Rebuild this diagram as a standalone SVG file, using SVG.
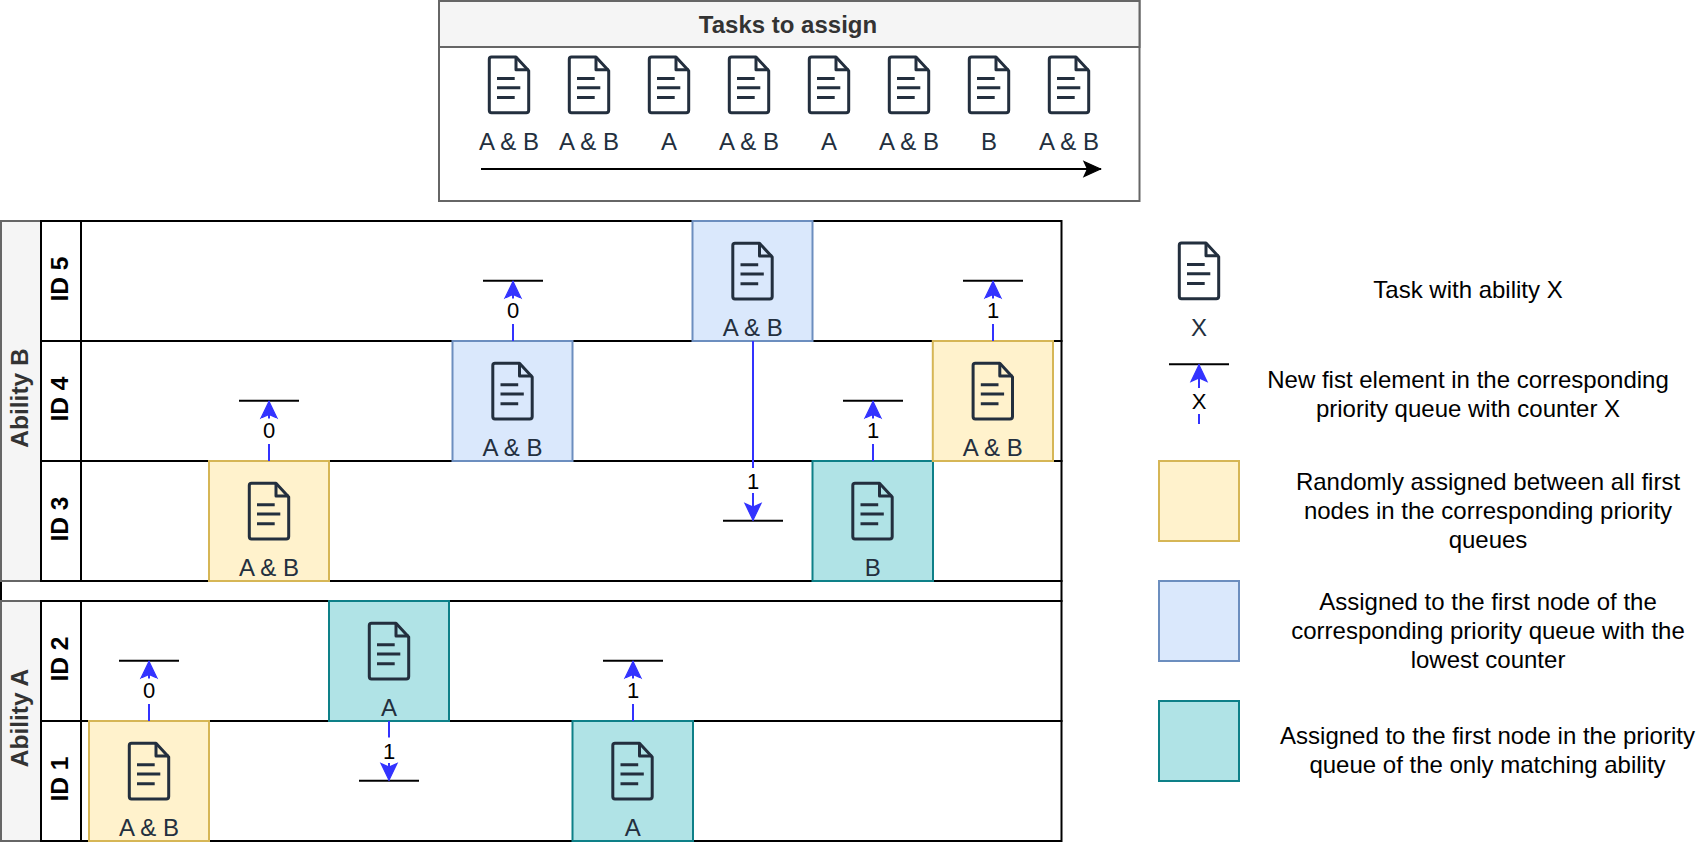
<svg xmlns="http://www.w3.org/2000/svg" width="1700" height="844" viewBox="0 0 1700 844">
<style>
text{font-family:"Liberation Sans",Arial,sans-serif;text-anchor:middle}
.t{font-size:24px;fill:#232f3e}
.d{font-size:24px;fill:#000}
.h{font-size:24px;font-weight:bold;fill:#333}
.ab{font-size:24.500px;font-weight:bold;fill:#333}
.id{font-size:24.500px;font-weight:bold;fill:#000}
.n{font-size:22px;fill:#000}
.lane{fill:none;stroke:#000;stroke-width:2}
.hd{fill:#f5f5f5;stroke:#666;stroke-width:2}
.y{fill:#fff2cc;stroke:#d6b656;stroke-width:2}
.b{fill:#dae8fc;stroke:#6c8ebf;stroke-width:2}
.g{fill:#b0e3e6;stroke:#0e8088;stroke-width:2}
.q{stroke:#000;stroke-width:2;fill:none}
.c{stroke:#3333ff;stroke-width:2;fill:none;marker-end:url(#ah)}
.bg{fill:#fff}
</style>
<defs>
<marker id="ah" markerUnits="userSpaceOnUse" markerWidth="22" markerHeight="22" viewBox="0 0 22 22" refX="20" refY="11" orient="auto">
<path d="M3 3 L19.500 11 L3 19 L6.500 11 Z" fill="#3333ff" stroke="#3333ff" stroke-width="1.200"/>
</marker>
<marker id="bk" markerUnits="userSpaceOnUse" markerWidth="22" markerHeight="22" viewBox="0 0 22 22" refX="20" refY="11" orient="auto">
<path d="M3 3.500 L19.500 11 L3 18.500 L6.500 11 Z" fill="#000" stroke="#000" stroke-width="1.200"/>
</marker>
<g id="doc" fill="none" stroke="#232f3e" stroke-width="3" stroke-linejoin="round">
<path d="M3.500 1.300 H28 L40.700 15 V54.500 Q40.700 57 38.200 57 H3.500 Q1.300 57 1.300 54.500 V3.500 Q1.300 1.300 3.500 1.300 Z"/>
<path d="M28 1.300 V14 H40.700"/>
<path d="M9 22.700 H26.700 M9 32 H32.300 M9 41.700 H26.700"/>
</g>
</defs>

<g id="tasks">
<rect x="439" y="1" width="700.500" height="200" fill="#fff" stroke="#666" stroke-width="2"/>
<rect class="hd" x="439" y="1" width="700.500" height="46"/>
<text class="h" x="788" y="33">Tasks to assign</text>
<path d="M481 169 H1101" stroke="#000" stroke-width="2" fill="none" marker-end="url(#bk)"/>
</g>
<g id="task1"><use href="#doc" x="488" y="55.700"/><text class="t" x="509" y="150">A &amp; B</text></g>
<g id="task2"><use href="#doc" x="568" y="55.700"/><text class="t" x="589" y="150">A &amp; B</text></g>
<g id="task3"><use href="#doc" x="648" y="55.700"/><text class="t" x="669" y="150">A</text></g>
<g id="task4"><use href="#doc" x="728" y="55.700"/><text class="t" x="749" y="150">A &amp; B</text></g>
<g id="task5"><use href="#doc" x="808" y="55.700"/><text class="t" x="829" y="150">A</text></g>
<g id="task6"><use href="#doc" x="888" y="55.700"/><text class="t" x="909" y="150">A &amp; B</text></g>
<g id="task7"><use href="#doc" x="968" y="55.700"/><text class="t" x="989" y="150">B</text></g>
<g id="task8"><use href="#doc" x="1048" y="55.700"/><text class="t" x="1069" y="150">A &amp; B</text></g>

<g id="pool-gap"><rect class="lane" x="1" y="581" width="1060.500" height="20"/></g>
<g id="ability-b">
<rect class="hd" x="1" y="221" width="40" height="360"/>
<text class="ab" transform="translate(28 398) rotate(-90)">Ability B</text>
</g>
<g id="id5"><rect class="lane" x="41" y="221" width="1020.500" height="120"/><rect class="lane" x="41" y="221" width="40" height="120"/><text class="id" transform="translate(68.300 279) rotate(-90)">ID 5</text></g>
<g id="id4"><rect class="lane" x="41" y="341" width="1020.500" height="120"/><rect class="lane" x="41" y="341" width="40" height="120"/><text class="id" transform="translate(68.300 399) rotate(-90)">ID 4</text></g>
<g id="id3"><rect class="lane" x="41" y="461" width="1020.500" height="120"/><rect class="lane" x="41" y="461" width="40" height="120"/><text class="id" transform="translate(68.300 519) rotate(-90)">ID 3</text></g>
<g id="ability-a">
<rect class="hd" x="1" y="601" width="40" height="240"/>
<text class="ab" transform="translate(28 718) rotate(-90)">Ability A</text>
</g>
<g id="id2"><rect class="lane" x="41" y="601" width="1020.500" height="120"/><rect class="lane" x="41" y="601" width="40" height="120"/><text class="id" transform="translate(68.300 659) rotate(-90)">ID 2</text></g>
<g id="id1"><rect class="lane" x="41" y="721" width="1020.500" height="120"/><rect class="lane" x="41" y="721" width="40" height="120"/><text class="id" transform="translate(68.300 779) rotate(-90)">ID 1</text></g>

<g id="node-y1"><rect class="y" x="89" y="721" width="120" height="120"/><use href="#doc" x="128" y="742"/><text class="t" x="149" y="835.500">A &amp; B</text></g>
<g id="node-g2"><rect class="g" x="329" y="601" width="120" height="120"/><use href="#doc" x="368" y="622"/><text class="t" x="389" y="715.500">A</text></g>
<g id="node-y3"><rect class="y" x="209" y="461" width="120" height="120"/><use href="#doc" x="248" y="482"/><text class="t" x="269" y="575.500">A &amp; B</text></g>
<g id="node-b4"><rect class="b" x="452.500" y="341" width="120" height="120"/><use href="#doc" x="491.500" y="362"/><text class="t" x="512.500" y="455.500">A &amp; B</text></g>
<g id="node-g1"><rect class="g" x="572.500" y="721" width="120.500" height="120"/><use href="#doc" x="611.500" y="742"/><text class="t" x="632.800" y="835.500">A</text></g>
<g id="node-b5"><rect class="b" x="692.500" y="221" width="120" height="120"/><use href="#doc" x="731.500" y="242"/><text class="t" x="752.800" y="335.500">A &amp; B</text></g>
<g id="node-g3"><rect class="g" x="812.500" y="461" width="120.500" height="120"/><use href="#doc" x="851.500" y="482"/><text class="t" x="872.800" y="575.500">B</text></g>
<g id="node-y4"><rect class="y" x="932.800" y="341" width="120.200" height="120"/><use href="#doc" x="971.800" y="362"/><text class="t" x="992.800" y="455.500">A &amp; B</text></g>

<g id="connectors">
<path class="q" d="M119 660.700 H179"/><path class="c" d="M149 721 V661"/><rect class="bg" x="141" y="678.500" width="16" height="25.500"/><text class="n" x="149" y="698">0</text>
<path class="q" d="M359 780.700 H419"/><path class="c" d="M389 721 V780.500"/><rect class="bg" x="381" y="737.500" width="16" height="25.500"/><text class="n" x="389" y="759">1</text>
<path class="q" d="M239 400.700 H299"/><path class="c" d="M269 461 V401"/><rect class="bg" x="261" y="418.500" width="16" height="25.500"/><text class="n" x="269" y="438">0</text>
<path class="q" d="M483 280.700 H543"/><path class="c" d="M513 341 V281"/><rect class="bg" x="505" y="298.500" width="16" height="25.500"/><text class="n" x="513" y="318">0</text>
<path class="q" d="M603 660.700 H663"/><path class="c" d="M633 721 V661"/><rect class="bg" x="625" y="678.500" width="16" height="25.500"/><text class="n" x="633" y="698">1</text>
<path class="q" d="M723 520.700 H783"/><path class="c" d="M753 341 V520.500"/><rect class="bg" x="745" y="468" width="16" height="25"/><text class="n" x="753" y="488.500">1</text>
<path class="q" d="M843 400.700 H903"/><path class="c" d="M873 461 V401"/><rect class="bg" x="865" y="418.500" width="16" height="25.500"/><text class="n" x="873" y="438">1</text>
<path class="q" d="M963 280.700 H1023"/><path class="c" d="M993 341 V281"/><rect class="bg" x="985" y="298.500" width="16" height="25.500"/><text class="n" x="993" y="318">1</text>
<path class="q" d="M1169 364.300 H1229"/><path class="c" d="M1199 424 V364.500"/><rect class="bg" x="1191" y="388" width="16" height="26"/><text class="n" x="1199" y="408.500">X</text>
</g>

<g id="legend-task"><use href="#doc" x="1178" y="241.700"/><text class="t" x="1199" y="336">X</text><text class="d" x="1468" y="298">Task with ability X</text></g>
<g id="legend-queue"><text class="d" x="1468" y="388">New fist element in the corresponding</text><text class="d" x="1468" y="417">priority queue with counter X</text></g>
<g id="legend-yellow"><rect class="y" x="1159" y="461" width="80" height="80"/><text class="d" x="1488" y="490">Randomly assigned between all first</text><text class="d" x="1488" y="519">nodes in the corresponding priority</text><text class="d" x="1488" y="548">queues</text></g>
<g id="legend-blue"><rect class="b" x="1159" y="581" width="80" height="80"/><text class="d" x="1488" y="610">Assigned to the first node of the</text><text class="d" x="1488" y="639">corresponding priority queue with the</text><text class="d" x="1488" y="668">lowest counter</text></g>
<g id="legend-teal"><rect class="g" x="1159" y="701" width="80" height="80"/><text class="d" x="1487.500" y="744">Assigned to the first node in the priority</text><text class="d" x="1487.500" y="773">queue of the only matching ability</text></g>
</svg>
